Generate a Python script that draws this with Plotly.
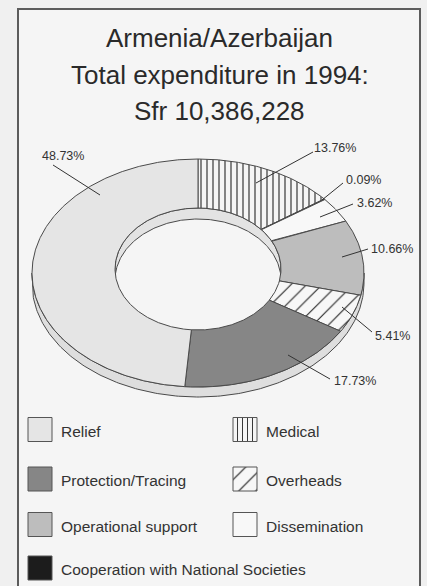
import numpy as np
import plotly.graph_objects as go

# ---------------- data ----------------
categories = ["Medical", "Cooperation with National Societies", "Dissemination",
              "Operational support", "Overheads", "Protection/Tracing", "Relief"]
shares = [13.76, 0.09, 3.62, 10.66, 5.41, 17.73, 48.73]
title_lines = ["Armenia/Azerbaijan", "Total expenditure in 1994:", "Sfr 10,386,228"]
legend_order = ["Relief", "Medical", "Protection/Tracing", "Overheads",
                "Operational support", "Dissemination", "Cooperation with National Societies"]

# ---------------- styles / layout ----------------
FONT = "Liberation Sans, Arial, Helvetica, sans-serif"
W, H = 427, 586
CX, CY, RX, RY = 198, 273, 166, 114        # outer top ellipse
ICX, ICY, IRX, IRY = 198, 269, 83, 61      # inner hole ellipse
DEPTH = 10
EDGE = "#4a4a4a"

STYLE = {
    "Medical": dict(color="#f5f5f5", pattern="|", psize=6, sol=0.18),
    "Cooperation with National Societies": dict(color="#1c1c1c"),
    "Dissemination": dict(color="#f8f8f8"),
    "Operational support": dict(color="#bdbdbd"),
    "Overheads": dict(color="#f7f7f7", pattern="/", psize=11, sol=0.1),
    "Protection/Tracing": dict(color="#868686"),
    "Relief": dict(color="#e5e5e5"),
}
# label text position (left x, middle y) and leader line (x0,y0)->(x1,y1)
LABEL_POS = {
    "Relief": (40, 156, 53, 165, 100, 195),
    "Medical": (312, 148, 313, 152, 256, 183),
    "Cooperation with National Societies": (344, 180, 343, 183, 322, 200),
    "Dissemination": (355, 203, 353, 204, 320, 217),
    "Operational support": (369, 249, 368, 249, 342, 257),
    "Overheads": (373, 336, 372, 332, 342, 307),
    "Protection/Tracing": (332, 381, 330, 379, 288, 355),
}
LEGEND_COLS = [28, 233]
LEGEND_ROWS = [429.5, 479, 524.5, 568]
SW = 24


def ell(theta_deg, cx, cy, rx, ry, dy=0.0):
    t = np.radians(theta_deg)
    return cx + rx * np.sin(t), cy - ry * np.cos(t) + dy


def fill_kwargs(name):
    st = STYLE[name]
    kw = dict(fill="toself", fillcolor=st["color"])
    if "pattern" in st:
        kw["fillpattern"] = dict(shape=st["pattern"], size=st["psize"], solidity=st["sol"],
                                 fgcolor="#222222", bgcolor=st["color"], fillmode="replace")
    return kw


fig = go.Figure()

# frame
fig.add_shape(type="rect", x0=18, y0=9, x1=420, y1=H + 10, xref="x", yref="y",
              line=dict(color="#5c5c5c", width=2), fillcolor="#f5f5f5", layer="below")

# outer side wall (visible lower half)
th = np.linspace(90, 270, 200)
xs_top, ys_top = ell(th, CX, CY, RX, RY)
xs_bot, ys_bot = ell(th[::-1], CX, CY, RX, RY, DEPTH)
fig.add_trace(go.Scatter(x=np.r_[xs_top, xs_bot, xs_top[0]], y=np.r_[ys_top, ys_bot, ys_top[0]],
                         mode="lines", fill="toself", fillcolor="#dedede",
                         line=dict(color=EDGE, width=1), hoverinfo="skip"))

# inner wall (far side of the hole)
th = np.linspace(-90, 90, 200)
t = np.radians(th)
wx = ICX + IRX * np.sin(t)
wy_top = ICY - IRY * np.cos(t)
wy_bot = ICY + np.minimum(DEPTH + 1 - IRY * np.cos(t), IRY * np.cos(t))
fig.add_trace(go.Scatter(x=np.r_[wx, wx[::-1], wx[0]], y=np.r_[wy_top, wy_bot[::-1], wy_top[0]],
                         mode="lines", fill="toself", fillcolor="#e3e3e3",
                         line=dict(color=EDGE, width=1), hoverinfo="skip"))

# top face slices, clockwise from 12 o'clock
total = sum(shares)
start = 0.0
for name, v in zip(categories, shares):
    a0 = start
    a1 = start + 360.0 * v / total
    start = a1
    n = max(4, int((a1 - a0) * 2))
    th = np.linspace(a0, a1, n)
    ox, oy = ell(th, CX, CY, RX, RY)
    ix, iy = ell(th[::-1], ICX, ICY, IRX, IRY)
    fig.add_trace(go.Scatter(x=np.r_[ox, ix, ox[0]], y=np.r_[oy, iy, oy[0]], mode="lines",
                             line=dict(color=EDGE, width=1), name=name,
                             hovertemplate=f"{name}: {v:.2f}%<extra></extra>",
                             **fill_kwargs(name)))

# percentage labels with leader lines
for name, v in zip(categories, shares):
    tx, ty, x0, y0, x1, y1 = LABEL_POS[name]
    fig.add_shape(type="line", x0=x0, y0=y0, x1=x1, y1=y1, xref="x", yref="y",
                  line=dict(color="#333333", width=1))
    fig.add_annotation(x=tx, y=ty, xref="x", yref="y", text=f"{v:.2f}%", showarrow=False,
                       xanchor="left", yanchor="middle",
                       font=dict(family=FONT, size=12.5, color="#333333"))

# title
for i, line in enumerate(title_lines):
    fig.add_annotation(x=219.5, y=38 + 36.5 * i, xref="x", yref="y", text=line,
                       showarrow=False, xanchor="center", yanchor="middle",
                       font=dict(family=FONT, size=26, color="#2a2a2a"))

# legend (two columns)
for k, name in enumerate(legend_order):
    col, row = k % 2, k // 2
    x0 = LEGEND_COLS[col]
    yc = LEGEND_ROWS[row]
    sx = [x0, x0 + SW, x0 + SW, x0, x0]
    sy = [yc - SW / 2, yc - SW / 2, yc + SW / 2, yc + SW / 2, yc - SW / 2]
    kw = fill_kwargs(name)
    if "fillpattern" in kw:
        kw["fillpattern"] = dict(kw["fillpattern"], size=5 if STYLE[name]["pattern"] == "|" else 12)
    fig.add_trace(go.Scatter(x=sx, y=sy, mode="lines", line=dict(color="#555555", width=1),
                             hoverinfo="skip", **kw))
    fig.add_annotation(x=x0 + SW + 7, y=yc + 1.5, xref="x", yref="y", text=name, showarrow=False,
                       xanchor="left", yanchor="middle",
                       font=dict(family=FONT, size=15.5, color="#333333"))

fig.update_layout(
    width=W, height=H, margin=dict(l=0, r=0, t=0, b=0),
    paper_bgcolor="#f0f0f0", plot_bgcolor="rgba(0,0,0,0)", showlegend=False,
    xaxis=dict(range=[0, W], visible=False, fixedrange=True),
    yaxis=dict(range=[H, 0], visible=False, fixedrange=True),
)

fig.write_html(
    "out.html",
    config={"displayModeBar": False},
    post_script="document.body.style.margin='0';document.body.style.overflow='hidden';"
                "document.body.style.background='#f0f0f0';",
)
